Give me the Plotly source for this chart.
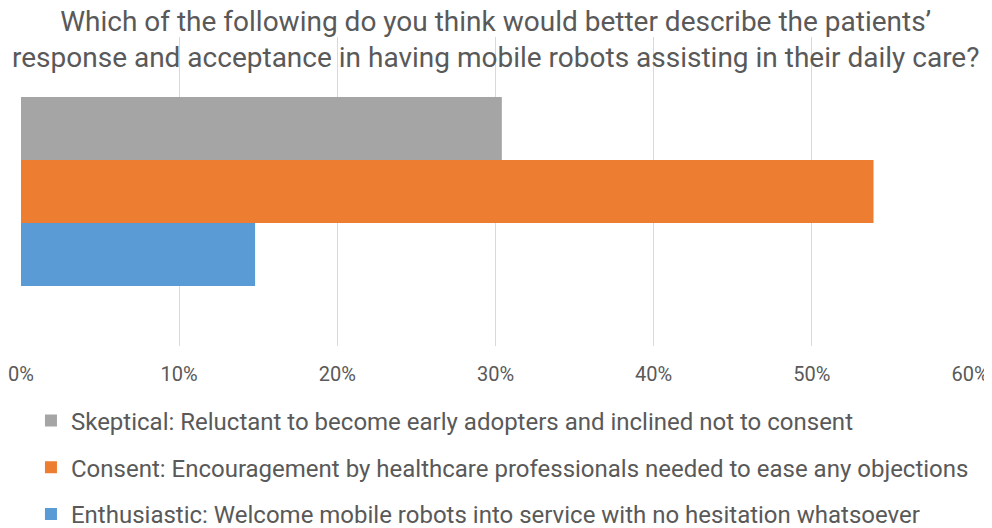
import plotly.graph_objects as go

categories = [""]
series_names = [
    "Skeptical: Reluctant to become early adopters and inclined not to consent",
    "Consent: Encouragement by healthcare professionals needed to ease any objections",
    "Enthusiastic: Welcome mobile robots into service with no hesitation whatsoever",
]
series_values = [0.304, 0.539, 0.148]
series_colors = ["#A5A5A5", "#ED7D31", "#5B9BD5"]
tick_values = [0, 0.1, 0.2, 0.3, 0.4, 0.5, 0.6]
tick_labels = ["0%", "10%", "20%", "30%", "40%", "50%", "60%"]
title_text = ("Which of the following do you think would better describe the patients’<br>"
              "response and acceptance in having mobile robots assisting in their daily care?")

fig = go.Figure()
for i, (name, val, col) in enumerate(zip(series_names, series_values, series_colors)):
    fig.add_trace(go.Bar(
        y=categories, x=[val], name=name, orientation="h",
        marker=dict(color=col, line=dict(width=0)),
        legendgroup=f"g{i}",
    ))

# page body adds an 8px margin, so the figure is sized to fill the rest of the window
fig.update_layout(
    width=984, height=520,
    paper_bgcolor="white", plot_bgcolor="white",
    barmode="group", bargap=0.388, bargroupgap=0,
    margin=dict(l=13, r=22, t=29, b=182, autoexpand=False),
    font=dict(family="Roboto", color="#595959"),
    xaxis=dict(
        range=[0, 0.6], tickvals=tick_values, ticktext=tick_labels,
        showgrid=True, gridcolor="#D9D9D9", gridwidth=1,
        zeroline=False, showline=False, automargin=False,
        tickfont=dict(size=20, color="#595959"), ticks="", ticklabelstandoff=14,
        ticklabeloverflow="allow",
    ),
    yaxis=dict(showticklabels=False, showgrid=False, zeroline=False, showline=False,
               autorange="reversed", automargin=False),
    showlegend=True,
    legend=dict(
        orientation="v", x=0.0105, xanchor="left", y=-0.1696, yanchor="top",
        traceorder="grouped", tracegroupgap=12.5,
        font=dict(size=24, color="#595959"),
        itemwidth=30, bgcolor="rgba(0,0,0,0)",
    ),
    annotations=[dict(
        text=title_text, xref="paper", yref="paper",
        x=0.5, xanchor="center", y=0.993, yanchor="middle",
        showarrow=False, align="center",
        font=dict(family="Roboto", size=28, color="#595959"),
    )],
)

fig.write_html("out.html")
